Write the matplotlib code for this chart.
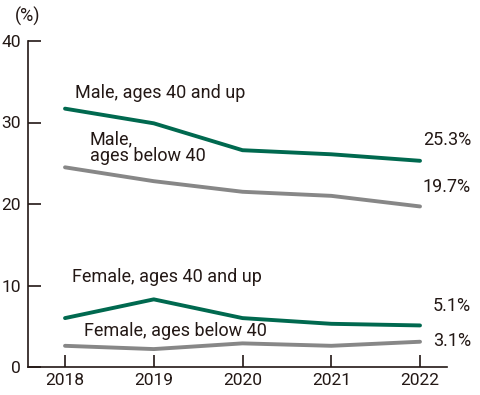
import matplotlib
matplotlib.use('Agg')
import matplotlib.pyplot as plt

# データ
years = [2018, 2019, 2020, 2021, 2022]
male_40_up = [31.7, 29.9, 26.6, 26.1, 25.3]
male_below_40 = [24.5, 22.8, 21.5, 21.0, 19.7]
female_40_up = [6.0, 8.3, 6.0, 5.3, 5.1]
female_below_40 = [2.6, 2.2, 2.9, 2.6, 3.1]
y_ticks = [0, 10, 20, 30, 40]

GREEN = '#00694f'
GRAY = '#878787'
TEXT = '#231815'

plt.rcParams['font.family'] = ['Roboto', 'DejaVu Sans']

fig = plt.figure(figsize=(4.8, 3.95), dpi=100)
ax = fig.add_axes([28 / 480, 28 / 395, 419 / 480, 326 / 395])

for vals, col in [(male_40_up, GREEN), (male_below_40, GRAY),
                  (female_40_up, GREEN), (female_below_40, GRAY)]:
    ax.plot(years, vals, color=col, lw=2.8, solid_capstyle='round',
            solid_joinstyle='round')

ax.set_xlim(2017.583, 2022.304)
ax.set_ylim(0, 40)
ax.set_xticks(years)
ax.set_yticks(y_ticks)
for s in ['top', 'right']:
    ax.spines[s].set_visible(False)
for s in ['left', 'bottom']:
    ax.spines[s].set_linewidth(1.2)
    ax.spines[s].set_color(TEXT)
ax.tick_params(direction='in', length=9, width=1.2, color=TEXT,
               labelsize=12.5, labelcolor=TEXT)
ax.tick_params(axis='y', pad=5)
ax.tick_params(axis='x', pad=4)

# ラベル
fs = 13
ax.text(2018.11, 33.6, 'Male, ages 40 and up', fontsize=fs, color=TEXT, va='center')
ax.text(2018.28, 26.9, 'Male,\nages below 40', fontsize=fs, color=TEXT,
        va='center', linespacing=0.95)
ax.text(2018.08, 11.0, 'Female, ages 40 and up', fontsize=fs, color=TEXT, va='center')
ax.text(2018.21, 4.4, 'Female, ages below 40', fontsize=fs, color=TEXT, va='center')

for yv, lab in [(27.9, f'{male_40_up[-1]}%'), (22.1, f'{male_below_40[-1]}%'),
                (7.5, f'{female_40_up[-1]}%'), (3.2, f'{female_below_40[-1]}%')]:
    ax.text(2022.575, yv, lab, fontsize=fs, color=TEXT, va='center', ha='right',
            clip_on=False)

fig.text(28 / 480, 1 - 16 / 395, '(%)', fontsize=fs, color=TEXT,
         ha='center', va='center')

fig.savefig('out.png', dpi=100)
